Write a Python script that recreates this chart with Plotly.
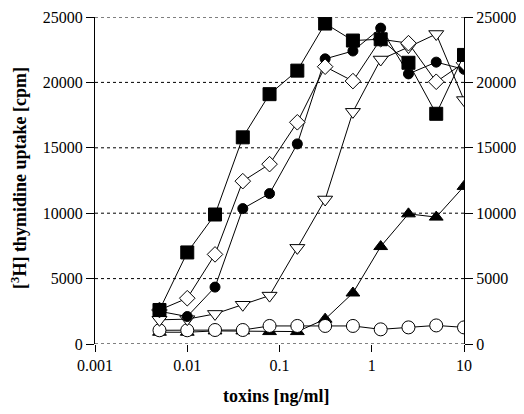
import plotly.graph_objects as go

conc = [0.005, 0.01, 0.02, 0.04, 0.078, 0.156, 0.3125, 0.625, 1.25, 2.5, 5, 10]

sq_filled = [2600, 7000, 9900, 15800, 19100, 20900, 24500, 23200, 23300, 21500, 17600, 22100]
circ_filled = [2500, 2100, 4350, 10350, 11500, 15300, 21800, 22400, 24150, 20650, 21550, 21000]
diam_open = [2600, 3500, 6850, 12450, 13750, 16950, 21200, 20100, 23300, 23000, 20050, 21500]
tri_down_open = [1850, 1900, 2300, 3000, 3700, 7350, 11050, 17750, 21750, 22700, 23700, 18650]
tri_up_filled = [900, 900, 1000, 1000, 950, 950, 1900, 3900, 7450, 9950, 9700, 12050]
circ_open = [1050, 1050, 1070, 1070, 1380, 1380, 1380, 1380, 1120, 1270, 1420, 1270]

x_tickvals = [0.001, 0.01, 0.1, 1, 10]
x_ticktext = ["0.001", "0.01", "0.1", "1", "10"]
y_tickvals = [0, 5000, 10000, 15000, 20000, 25000]
y_ticktext = ["0", "5000", "10000", "15000", "20000", "25000"]

FONT = "Liberation Serif, Times New Roman, serif"

fig = go.Figure()

def add(y, symbol, size, fill, lw=1):
    fig.add_trace(go.Scatter(
        x=conc, y=y, mode="lines+markers",
        line=dict(color="black", width=1),
        marker=dict(symbol=symbol, size=size, color=fill,
                    line=dict(color="black", width=lw)),
        showlegend=False, hoverinfo="skip"))

# dashed horizontal grid lines at each y tick (including 0 and 25000)
for v in y_tickvals:
    fig.add_shape(type="line", xref="paper", x0=0, x1=1, yref="y", y0=v, y1=v,
                  line=dict(color="black", width=1, dash="3px,3px"), layer="below")

add(tri_up_filled, "triangle-up", 12, "black")
add(circ_open, "circle", 13, "white")
add(tri_down_open, "triangle-down", 13, "white")
add(circ_filled, "circle", 10, "black")
add(diam_open, "diamond", 12, "white")
add(sq_filled, "square", 13, "black")

# invisible trace to activate the right-hand axis
fig.add_trace(go.Scatter(x=conc, y=sq_filled, yaxis="y2", mode="markers",
                         marker=dict(opacity=0), showlegend=False, hoverinfo="skip"))

fig.update_layout(
    width=516, height=406,
    margin=dict(l=87, r=60, t=9, b=70),
    paper_bgcolor="white", plot_bgcolor="white",
    font=dict(family=FONT, color="black", size=16),
    xaxis=dict(type="log", range=[-3, 1], tickvals=x_tickvals, ticktext=x_ticktext,
               ticks="outside", ticklen=7, tickcolor="black", showgrid=False,
               showline=False, zeroline=False, automargin=False,
               tickfont=dict(family=FONT, size=16, color="black")),
    yaxis=dict(range=[0, 25000], tickvals=y_tickvals, ticktext=y_ticktext,
               ticks="outside", ticklen=8,
               tickcolor="black", showline=True, linecolor="black", linewidth=1,
               showgrid=False, zeroline=False, automargin=False,
               tickfont=dict(family=FONT, size=16, color="black")),
    yaxis2=dict(range=[0, 25000], tickvals=y_tickvals, ticktext=y_ticktext,
                overlaying="y", side="right",
                anchor="x", ticks="outside", ticklen=8, tickcolor="black",
                showline=True, linecolor="black", linewidth=1, showgrid=False,
                zeroline=False, automargin=False,
                tickfont=dict(family=FONT, size=16, color="black")),
    annotations=[
        dict(text="<b>toxins [ng/ml]</b>", xref="paper", yref="paper",
             x=0.493, y=-0.159, xanchor="center", yanchor="middle", showarrow=False,
             font=dict(family=FONT, size=18, color="black")),
        dict(text="<b>[<sup>3</sup>H] thymidine uptake [cpm]</b>", xref="paper", yref="paper",
             x=-0.205, y=0.509, xanchor="center", yanchor="middle", showarrow=False,
             textangle=-90, font=dict(family=FONT, size=18, color="black")),
    ],
)

fig.write_html("out.html")
